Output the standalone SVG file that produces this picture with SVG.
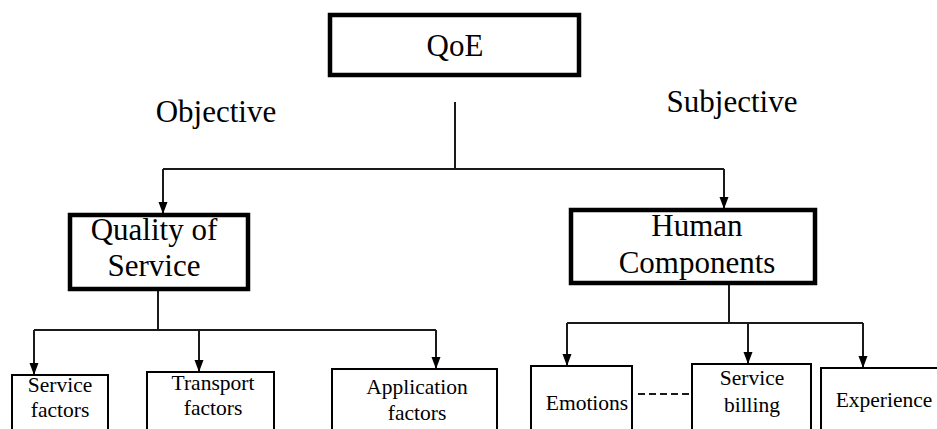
<svg xmlns="http://www.w3.org/2000/svg" width="937" height="429" viewBox="0 0 937 429">
  <style>
    text { fill: #000; text-anchor: middle; }
    .big { font-size: 31px; }
    .small { font-size: 21.5px; }
    .main { fill: #fff; stroke: #000; stroke-width: 4.5; }
    .leaf { fill: #fff; stroke: #000; stroke-width: 2; }
    .conn { fill: none; stroke: #1a1a1a; stroke-width: 2; }
    .arrow { marker-end: url(#head); }
    .dash { fill: none; stroke: #1a1a1a; stroke-width: 2; stroke-dasharray: 7 4; }
  </style>
  <defs>
    <marker id="head" viewBox="0 0 12 10" markerWidth="12" markerHeight="10" refX="12" refY="5" orient="auto" markerUnits="userSpaceOnUse">
      <path d="M0,0.5 L12,5 L0,9.5 z" fill="#000"/>
    </marker>
  </defs>
  <rect width="937" height="429" fill="#fff"/>

  <g font-family="Liberation Serif, DejaVu Serif, serif">
  <!-- branch labels -->
  <text class="big" x="216" y="122">Objective</text>
  <text class="big" x="732" y="112">Subjective</text>

  <!-- connectors -->
  <g id="connectors">
    <path class="conn" d="M455,102 V169 M163,169 H724"/>
    <path class="conn arrow" d="M163,169 V214"/>
    <path class="conn arrow" d="M724,169 V209"/>
    <path class="conn" d="M158,291 V330 M34,330 H436"/>
    <path class="conn arrow" d="M34,330 V375"/>
    <path class="conn arrow" d="M199,330 V372"/>
    <path class="conn arrow" d="M436,330 V369"/>
    <path class="conn" d="M729,285 V323 M567,323 H863"/>
    <path class="conn arrow" d="M567,323 V366"/>
    <path class="conn arrow" d="M748,323 V364"/>
    <path class="conn arrow" d="M863,323 V368"/>
    <path class="dash" d="M638,394 H689"/>
  </g>

  <g id="qoe">
    <rect class="main" x="330" y="15" width="249" height="60"/>
    <text class="big" x="455" y="56">QoE</text>
  </g>

  <g id="qos">
    <rect class="main" x="70" y="215" width="178" height="74"/>
    <text class="big" x="154" y="240">Quality of</text>
    <text class="big" x="154" y="276">Service</text>
  </g>

  <g id="human">
    <rect class="main" x="571" y="210" width="244" height="73"/>
    <text class="big" x="697" y="236">Human</text>
    <text class="big" x="697" y="273">Components</text>
  </g>

  <g id="service-factors">
    <rect class="leaf" x="12" y="375" width="96" height="70"/>
    <text class="small" x="60" y="392">Service</text>
    <text class="small" x="60" y="417">factors</text>
  </g>

  <g id="transport-factors">
    <rect class="leaf" x="147" y="372" width="127" height="70"/>
    <text class="small" x="213" y="390">Transport</text>
    <text class="small" x="213" y="415">factors</text>
  </g>

  <g id="application-factors">
    <rect class="leaf" x="332" y="369" width="165" height="70"/>
    <text class="small" x="417" y="394">Application</text>
    <text class="small" x="417" y="420">factors</text>
  </g>

  <g id="emotions">
    <rect class="leaf" x="531" y="366" width="101" height="70"/>
    <text class="small" x="587" y="410">Emotions</text>
  </g>

  <g id="service-billing">
    <rect class="leaf" x="692" y="364" width="119" height="70"/>
    <text class="small" x="752" y="385">Service</text>
    <text class="small" x="752" y="412">billing</text>
  </g>

  <g id="experience">
    <rect class="leaf" x="821" y="368" width="120" height="70"/>
    <text class="small" x="884" y="407">Experience</text>
  </g>
  </g>
</svg>
